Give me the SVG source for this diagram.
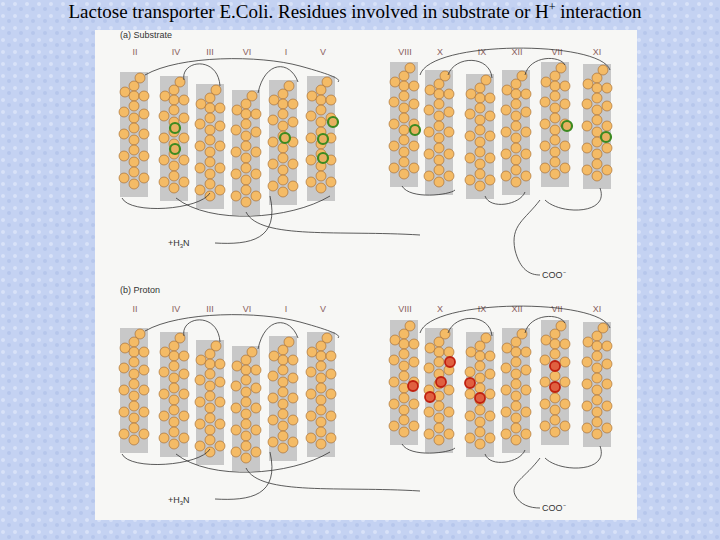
<svg xmlns="http://www.w3.org/2000/svg" xmlns:xlink="http://www.w3.org/1999/xlink" width="720" height="540" viewBox="0 0 720 540">
<style>
.t{font-family:"Liberation Serif",serif;font-size:19px;fill:#000}
.h{font-family:"Liberation Sans",sans-serif;font-size:9px;fill:#8a6060;text-anchor:middle}
.p{font-family:"Liberation Sans",sans-serif;font-size:9px;fill:#333}
.loop{fill:none;stroke:#333;stroke-width:0.8}
.res{fill:#f4bb66;stroke:#a0652a;stroke-width:0.6}
.g{fill:#e8b060;stroke:#3c8a20;stroke-width:2.2}
.rd{fill:#e06040;stroke:#c02010;stroke-width:1.8}
</style>
<defs>
<pattern id="bg" width="12" height="12" patternUnits="userSpaceOnUse">
<rect width="12" height="12" fill="#c4d2f2"/>
<circle cx="3" cy="4" r="2" fill="#d8e2f8"/><circle cx="9" cy="9" r="2" fill="#b6c6ec"/>
</pattern>
<g id="hx">
<rect x="0" y="0" width="28" height="125" fill="#c8c8c8"/>
<circle class="res" cx="20" cy="6" r="5"/><circle class="res" cx="14" cy="14" r="5"/>
<circle class="res" cx="5" cy="20" r="5"/><circle class="res" cx="14" cy="24" r="5"/><circle class="res" cx="24" cy="24" r="5"/>
<circle class="res" cx="14" cy="34" r="5"/><circle class="res" cx="4" cy="40" r="5"/><circle class="res" cx="24" cy="42" r="5"/>
<circle class="res" cx="14" cy="46" r="5"/><circle class="res" cx="14" cy="56" r="5"/><circle class="res" cx="4" cy="62" r="5"/>
<circle class="res" cx="24" cy="62" r="5"/><circle class="res" cx="14" cy="68" r="5"/><circle class="res" cx="14" cy="78" r="5"/>
<circle class="res" cx="4" cy="84" r="5"/><circle class="res" cx="24" cy="84" r="5"/><circle class="res" cx="14" cy="90" r="5"/>
<circle class="res" cx="14" cy="100" r="5"/><circle class="res" cx="4" cy="106" r="5"/><circle class="res" cx="24" cy="106" r="5"/>
<circle class="res" cx="14" cy="112" r="5"/>
</g>
</defs>
<rect width="720" height="540" fill="url(#bg)"/>
<text class="t" x="355" y="18" text-anchor="middle">Lactose transporter E.Coli. Residues involved in substrate or H<tspan dy="-7" font-size="12">+</tspan><tspan dy="7"> interaction</tspan></text>
<rect x="95" y="30" width="542" height="490" fill="#f7f7f5"/>
<g id="panelA">
<text class="p" x="120" y="38">(a) Substrate</text>
<text class="h" x="135" y="55">II</text><text class="h" x="176" y="55">IV</text><text class="h" x="210" y="55">III</text><text class="h" x="247" y="55">VI</text><text class="h" x="286" y="55">I</text><text class="h" x="323" y="55">V</text>
<text class="h" x="405" y="55">VIII</text><text class="h" x="440" y="55">X</text><text class="h" x="482" y="55">IX</text><text class="h" x="517" y="55">XII</text><text class="h" x="557" y="55">VII</text><text class="h" x="597" y="55">XI</text>
<g id="a-II"><use xlink:href="#hx" x="120" y="72"/></g>
<g id="a-IV"><use xlink:href="#hx" x="160" y="76"/></g>
<g id="a-III"><use xlink:href="#hx" x="196" y="84"/></g>
<g id="a-VI"><use xlink:href="#hx" x="232" y="90"/></g>
<g id="a-I"><use xlink:href="#hx" x="269" y="80"/></g>
<g id="a-V"><use xlink:href="#hx" x="307" y="76"/></g>
<g id="a-VIII"><use xlink:href="#hx" x="390" y="62"/></g>
<g id="a-X"><use xlink:href="#hx" x="425" y="70"/></g>
<g id="a-IX"><use xlink:href="#hx" x="466" y="74"/></g>
<g id="a-XII"><use xlink:href="#hx" x="502" y="70"/></g>
<g id="a-VII"><use xlink:href="#hx" x="541" y="62"/></g>
<g id="a-XI"><use xlink:href="#hx" x="583" y="64"/></g>
<g id="a-hl">
<circle class="g" cx="175" cy="128" r="5"/><circle class="g" cx="175" cy="149" r="5"/>
<circle class="g" cx="285" cy="138" r="5"/><circle class="g" cx="333" cy="122" r="5"/>
<circle class="g" cx="323" cy="139" r="5"/><circle class="g" cx="323" cy="158" r="5"/>
<circle class="g" cx="415" cy="130" r="5"/><circle class="g" cx="567" cy="126" r="5"/><circle class="g" cx="606" cy="137" r="5"/>
</g>
<g id="a-loops">
<path class="loop" d="M145,75 C180,55 260,55 300,66 S340,80 338,82"/>
<path class="loop" d="M184,80 C180,60 218,55 220,86"/>
<path class="loop" d="M258,93 C265,60 290,60 298,82"/>
<path class="loop" d="M122,198 C130,215 200,210 210,193"/>
<path class="loop" d="M176,198 C210,225 290,220 330,196"/>
<path class="loop" d="M246,212 C260,240 340,230 420,235"/>
<path class="loop" d="M270,196 C280,240 250,245 215,243"/>
<path class="loop" d="M420,75 C430,40 600,40 610,70"/>
<path class="loop" d="M448,75 C455,55 490,55 492,78"/>
<path class="loop" d="M525,75 C530,55 560,55 565,65"/>
<path class="loop" d="M402,186 C410,200 450,195 455,190"/>
<path class="loop" d="M485,196 C490,210 520,205 525,192"/>
<path class="loop" d="M540,200 C525,220 510,225 515,250 C520,270 530,275 540,275"/>
<path class="loop" d="M600,188 C610,215 560,215 545,200"/>
</g>
<text class="p" x="168" y="246">+H<tspan font-size="6" dy="2">3</tspan><tspan dy="-2">N</tspan></text>
<text class="p" x="542" y="278">COO⁻</text>
</g>
<g id="panelB">
<text class="p" x="120" y="293">(b) Proton</text>
<text class="h" x="135" y="312">II</text><text class="h" x="176" y="312">IV</text><text class="h" x="210" y="312">III</text><text class="h" x="247" y="312">VI</text><text class="h" x="286" y="312">I</text><text class="h" x="323" y="312">V</text>
<text class="h" x="405" y="312">VIII</text><text class="h" x="440" y="312">X</text><text class="h" x="482" y="312">IX</text><text class="h" x="517" y="312">XII</text><text class="h" x="557" y="312">VII</text><text class="h" x="597" y="312">XI</text>
<g id="b-II"><use xlink:href="#hx" x="120" y="328"/></g>
<g id="b-IV"><use xlink:href="#hx" x="160" y="332"/></g>
<g id="b-III"><use xlink:href="#hx" x="196" y="340"/></g>
<g id="b-VI"><use xlink:href="#hx" x="232" y="346"/></g>
<g id="b-I"><use xlink:href="#hx" x="269" y="336"/></g>
<g id="b-V"><use xlink:href="#hx" x="307" y="332"/></g>
<g id="b-VIII"><use xlink:href="#hx" x="390" y="320"/></g>
<g id="b-X"><use xlink:href="#hx" x="425" y="328"/></g>
<g id="b-IX"><use xlink:href="#hx" x="466" y="332"/></g>
<g id="b-XII"><use xlink:href="#hx" x="502" y="328"/></g>
<g id="b-VII"><use xlink:href="#hx" x="541" y="320"/></g>
<g id="b-XI"><use xlink:href="#hx" x="583" y="322"/></g>
<g id="b-hl">
<circle class="rd" cx="450" cy="362" r="5"/><circle class="rd" cx="441" cy="382" r="5"/>
<circle class="rd" cx="413" cy="386" r="5"/><circle class="rd" cx="430" cy="397" r="5"/>
<circle class="rd" cx="470" cy="383" r="5"/><circle class="rd" cx="480" cy="398" r="5"/>
<circle class="rd" cx="555" cy="366" r="5"/><circle class="rd" cx="555" cy="387" r="5"/>
</g>
<g id="b-loops">
<path class="loop" d="M145,331 C180,311 260,311 300,322 S340,336 338,338"/>
<path class="loop" d="M184,336 C180,316 218,311 220,342"/>
<path class="loop" d="M258,349 C265,316 290,316 298,338"/>
<path class="loop" d="M122,454 C130,471 200,466 210,449"/>
<path class="loop" d="M176,454 C210,481 290,476 330,452"/>
<path class="loop" d="M246,468 C260,496 340,486 420,491"/>
<path class="loop" d="M270,452 C280,496 250,501 215,499"/>
<path class="loop" d="M420,333 C430,298 600,298 610,328"/>
<path class="loop" d="M448,333 C455,313 490,313 492,336"/>
<path class="loop" d="M525,333 C530,313 560,313 565,323"/>
<path class="loop" d="M402,444 C410,458 450,453 455,448"/>
<path class="loop" d="M485,454 C490,468 520,463 525,450"/>
<path class="loop" d="M540,458 C525,478 510,483 515,495 C520,505 530,508 540,508"/>
<path class="loop" d="M600,446 C610,473 560,473 545,458"/>
</g>
<text class="p" x="168" y="503">+H<tspan font-size="6" dy="2">3</tspan><tspan dy="-2">N</tspan></text>
<text class="p" x="542" y="511">COO⁻</text>
</g>
</svg>
